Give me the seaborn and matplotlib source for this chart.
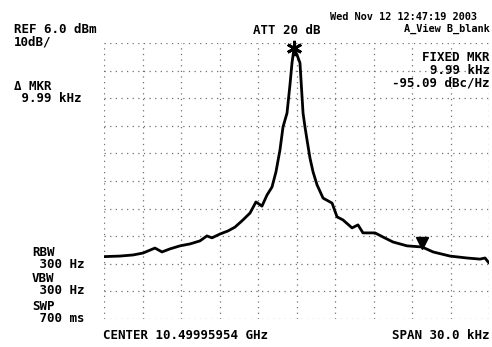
import matplotlib
matplotlib.use("Agg")
import matplotlib.pyplot as plt
import seaborn as sns
import numpy as np
import pandas as pd

# ---- data (offset from centre in kHz, level in dBm) ----
freq_khz = [-15.0, -13.76, -12.74, -11.96, -11.03, -10.48, -9.86, -9.08, -8.30, -7.52,
            -6.98, -6.59, -5.96, -5.34, -4.79, -4.17, -3.62, -3.16, -2.69, -2.30,
            -1.91, -1.60, -1.29, -1.05, -0.74, -0.51, -0.35, -0.19,
            0.04, 0.27, 0.51, 0.66, 0.82, 1.05, 1.29, 1.60, 2.07, 2.77,
            3.16, 3.62, 4.33, 4.79, 5.18, 6.12, 6.74, 7.52, 8.61, 9.78,
            10.64, 11.96, 13.29, 14.30, 14.69, 15.0]
level_dbm = [-71.4, -71.2, -70.8, -70.1, -68.3, -69.7, -68.6, -67.5, -66.8, -65.7,
             -63.9, -64.6, -63.2, -62.1, -60.7, -58.1, -55.6, -51.6, -53.1, -49.1,
             -46.2, -40.7, -32.8, -24.4, -19.4, -9.2, -1.2, 4.2,
             1.7, -1.2, -19.4, -24.4, -29.1, -35.7, -40.7, -45.4, -50.2, -52.0,
             -57.0, -58.1, -61.0, -59.9, -62.8, -62.8, -64.3, -66.1, -67.5, -67.9,
             -69.7, -71.2, -71.9, -72.3, -71.9, -73.7]

peak_marker = (-0.19, 4.2)
delta_marker = (9.78, -66.6)

ref_level = 6.0
db_per_div = 10
span_khz = 30.0
x_ticks = np.arange(-15, 15.01, 3)
y_ticks = np.arange(ref_level - 100, ref_level + 0.01, db_per_div)

W, H = 492, 347
sns.set_theme(style="white")
plt.rcParams['font.family'] = ['DejaVu Sans Mono', 'DejaVu Sans']

fig = plt.figure(figsize=(W / 100, H / 100), dpi=100)
fig.patch.set_facecolor("white")
ax = fig.add_axes([104 / W, 1 - 319 / H, 385 / W, 276 / H])
ax.set_facecolor("white")

df = pd.DataFrame({"freq": freq_khz, "level": level_dbm})
sns.lineplot(data=df, x="freq", y="level", sort=False, estimator=None,
             color="black", linewidth=2.0, ax=ax)

ax.plot([peak_marker[0]], [peak_marker[1]], marker=(6, 2, 0), markersize=11,
        color="black", markeredgewidth=2.0, clip_on=False)
ax.plot([delta_marker[0]], [delta_marker[1]], marker="v", markersize=9,
        color="black", clip_on=False)

ax.set_xlim(-span_khz / 2, span_khz / 2)
ax.set_ylim(ref_level - 100, ref_level)
ax.set_xticks(x_ticks)
ax.set_yticks(y_ticks)
ax.tick_params(length=0, labelbottom=False, labelleft=False)
ax.set_xlabel("")
ax.set_ylabel("")
ax.grid(True, color="#707070", linestyle=(0, (1, 3.5)), linewidth=0.9)
for s in ax.spines.values():
    s.set_visible(False)


def T(x, y, s, size=9, ha="left"):
    fig.text(x / W, 1 - y / H, s, ha=ha, va="top", fontsize=size,
             family="DejaVu Sans Mono", weight="bold", color="black")


T(330, 12, "Wed Nov 12 12:47:19 2003", size=7.4)
T(490, 23.5, "A_View B_blank", size=7.4, ha="right")
T(14, 23, "REF 6.0 dBm")
T(14, 35.5, "10dB/")
T(253, 24, "ATT 20 dB")
T(490, 51, "FIXED MKR", ha="right")
T(490, 63.5, "9.99 kHz", ha="right")
T(490, 76, "-95.09 dBc/Hz", ha="right")
T(14, 80, "\u0394 MKR")
T(14, 92.5, " 9.99 kHz")
T(32, 246, "RBW")
T(32, 258.5, " 300 Hz")
T(32, 272, "VBW")
T(32, 284.5, " 300 Hz")
T(32, 300, "SWP")
T(32, 312.5, " 700 ms")
T(103, 329, "CENTER 10.49995954 GHz")
T(490, 329, "SPAN 30.0 kHz", ha="right")

fig.savefig("out.png", dpi=100, facecolor="white")
